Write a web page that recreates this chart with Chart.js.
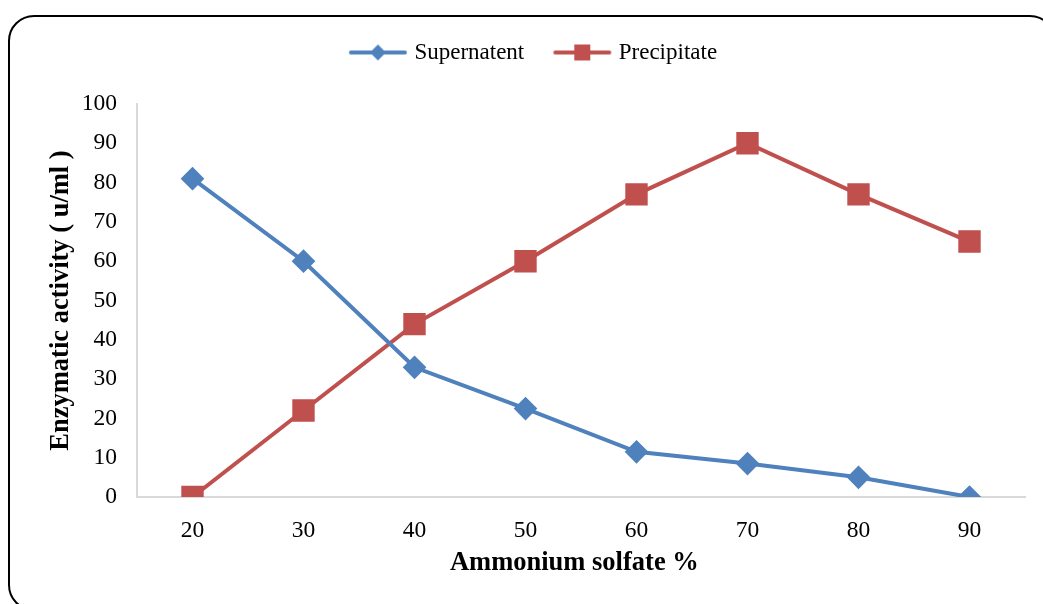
<!DOCTYPE html>
<html>
<head>
<meta charset="utf-8">
<script src="https://cdn.jsdelivr.net/npm/chart.js@4.4.1/dist/chart.umd.min.js"></script>
<style>
    html, body { margin: 0; padding: 0; background: #fff; overflow: hidden; }
    #frame {
        position: absolute; left: 8px; top: 15px; width: 1048px; height: 596px;
        border: 2px solid #000; border-radius: 26px; box-sizing: border-box;
    }
    #chartBox { position: absolute; left: 0; top: 0; width: 1043px; height: 604px; }
</style>
</head>
<body>
<div id="frame"></div>
<div id="chartBox"><canvas id="activityChart" width="1043" height="604"></canvas></div>
<script>
// ammonium sulfate saturation (%)
const saturation = ["20", "30", "40", "50", "60", "70", "80", "90"];

// enzymatic activity (u/ml)
const supernatant = [81, 60, 33, 22.5, 11.5, 8.5, 5, 0];
const precipitate = [0, 22, 44, 60, 77, 90, 77, 65];

const BLUE = "#4F81BD";
const RED = "#C0504D";
const FONT = "'Liberation Serif', 'Times New Roman', serif";

// small line + marker icon for the legend, like the spreadsheet legend
function legendIcon(color, shape) {
    const c = document.createElement("canvas");
    c.width = 60;
    c.height = 22;
    const g = c.getContext("2d");
    g.strokeStyle = color;
    g.fillStyle = color;
    g.lineWidth = 4;
    g.lineCap = "round";
    g.beginPath();
    g.moveTo(3, 11);
    g.lineTo(57, 11);
    g.stroke();
    g.beginPath();
    if (shape === "diamond") {
        g.moveTo(30, 3); g.lineTo(38, 11); g.lineTo(30, 19); g.lineTo(22, 11);
        g.closePath();
    } else {
        g.rect(22, 3, 16, 16);
    }
    g.fill();
    return c;
}

// push the plot area down below the legend
const legendSpacer = {
    id: "legendSpacer",
    beforeInit(chart) {
        const fit = chart.legend.fit;
        chart.legend.fit = function () {
            fit.call(this);
            this.height += 30;
        };
    }
};

const ctx = document.getElementById("activityChart").getContext("2d");
const activityChart = new Chart(ctx, {
    type: "line",
    data: {
        labels: saturation,
        datasets: [
            {
                label: "Supernatent", data: supernatant,
                borderColor: BLUE, backgroundColor: BLUE, borderWidth: 4,
                pointStyle: "rectRot", pointRadius: 9, pointHoverRadius: 9,
                legendIcon: legendIcon(BLUE, "diamond")
            },
            {
                label: "Precipitate", data: precipitate,
                borderColor: RED, backgroundColor: RED, borderWidth: 4,
                pointStyle: "rect", pointRadius: 13, pointHoverRadius: 13,
                legendIcon: legendIcon(RED, "square")
            }
        ]
    },
    options: {
        responsive: false,
        animation: false,
        layout: { padding: { left: 45, right: 18, top: 8, bottom: 20 } },
        plugins: {
            tooltip: { enabled: false },
            legend: {
                position: "top",
                labels: {
                    usePointStyle: true,
                    pointStyleWidth: 50,
                    padding: 33,
                    color: "#000",
                    font: { family: FONT, size: 23 },
                    generateLabels(chart) {
                        return chart.data.datasets.map((ds, i) => ({
                            text: ds.label,
                            pointStyle: ds.legendIcon,
                            fillStyle: ds.borderColor,
                            strokeStyle: ds.borderColor,
                            lineWidth: 0,
                            fontColor: "#000",
                            datasetIndex: i
                        }));
                    }
                }
            }
        },
        scales: {
            x: {
                offset: true,
                grid: { display: false, drawTicks: false },
                border: { color: "#d9d9d9", width: 2 },
                ticks: { color: "#000", padding: 20, font: { family: FONT, size: 23.5 } },
                title: {
                    display: true, text: "Ammonium solfate %\u00A0\u00A0", color: "#000",
                    font: { family: FONT, size: 26.5, weight: "bold" },
                    padding: { top: 0, bottom: 5 }
                },
                afterFit(scale) { scale.height = 604 - 20 - 497; }
            },
            y: {
                min: 0, max: 100,
                grid: { display: false, drawTicks: false },
                border: { color: "#d9d9d9", width: 2 },
                ticks: { stepSize: 10, color: "#000", padding: 20, font: { family: FONT, size: 23.5 } },
                title: {
                    display: true, text: "Enzymatic activity ( u/ml )", color: "#000",
                    font: { family: FONT, size: 26.5, weight: "bold" },
                    padding: { top: 0, bottom: 0 }
                },
                afterFit(scale) { scale.width = 137 - 45; }
            }
        }
    },
    plugins: [legendSpacer]
});
</script>
</body>
</html>
